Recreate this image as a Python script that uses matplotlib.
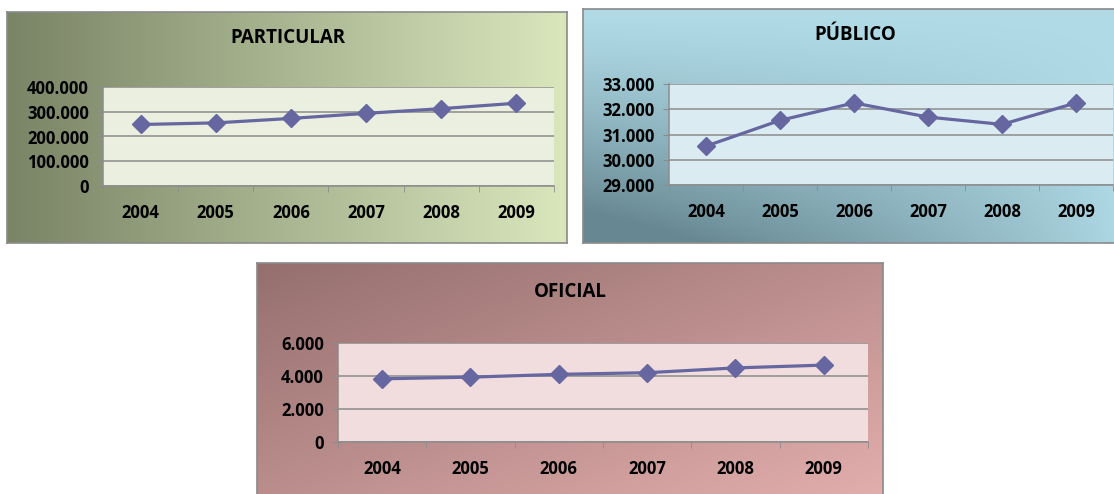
import numpy as np
import matplotlib.pyplot as plt
from matplotlib.colors import to_rgb
from matplotlib.ticker import FuncFormatter

plt.rcParams['font.family'] = ['Open Sans', 'DejaVu Sans']
plt.rcParams['font.weight'] = 'bold'

years = ['2004', '2005', '2006', '2007', '2008', '2009']
particular = [248500, 255000, 273000, 293500, 312500, 334500]
publico = [30540, 31560, 32250, 31690, 31400, 32250]
oficial = [3830, 3930, 4100, 4200, 4490, 4660]

W, H = 1114, 494
fig = plt.figure(figsize=(W / 100, H / 100), dpi=100)


def rect(x0, y0, x1, y1):
    return [x0 / W, 1 - y1 / H, (x1 - x0) / W, (y1 - y0) / H]


def thousands(v, pos):
    return f'{int(round(v)):,}'.replace(',', '.')


def gradient_box(box, c0, c1, kind):
    ax = fig.add_axes(rect(*box))
    n = 200
    xx, yy = np.meshgrid(np.linspace(0, 1, n), np.linspace(0, 1, n))
    if kind == 'h':
        t = xx
    elif kind == 'diag':
        t = (xx + yy) / 2
    else:
        # darker toward the lower left corner
        t = np.clip(yy ** 1.3 * (1 - xx) ** 0.8 * 1.2, 0, 1)
    a, b = np.array(to_rgb(c0)), np.array(to_rgb(c1))
    img = a[None, None, :] * (1 - t[..., None]) + b[None, None, :] * t[..., None]
    ax.imshow(img, extent=[0, 1, 0, 1], origin='upper', aspect='auto')
    ax.set_xticks([])
    ax.set_yticks([])
    for s in ax.spines.values():
        s.set_color('#8a8a8a')
        s.set_linewidth(1.2)
    return ax


def line_panel(box, plot_box, title, title_xy, values, ylim, step,
               bg, plot_bg):
    gradient_box(box, *bg)
    ax = fig.add_axes(rect(*plot_box))
    ax.set_facecolor(plot_bg)
    x = np.arange(len(years))
    ax.plot(x, values, color='#6667a0', lw=2.3, marker='D', ms=9,
            markeredgecolor='#6667a0', zorder=3, clip_on=False)
    ax.set_xlim(-0.5, len(years) - 0.5)
    ax.set_ylim(*ylim)
    ax.set_yticks(np.arange(ylim[0], ylim[1] + step / 2, step))
    ax.yaxis.set_major_formatter(FuncFormatter(thousands))
    ax.grid(axis='y', color='#8c8c8c', lw=1.1)
    ax.set_axisbelow(True)
    ax.set_xticks(x)
    ax.set_xticklabels(years)
    ax.set_xticks(np.arange(-0.5, len(years)), minor=True)
    ax.tick_params(axis='x', which='major', length=0, pad=13, labelsize=12)
    ax.tick_params(axis='x', which='minor', length=4, color='#8c8c8c')
    ax.tick_params(axis='y', length=4, color='#8c8c8c', pad=6, labelsize=12)
    for s in ['top', 'right']:
        ax.spines[s].set_visible(False)
    for s in ['left', 'bottom']:
        ax.spines[s].set_color('#8c8c8c')
        ax.spines[s].set_linewidth(1.1)
    fig.text(title_xy[0] / W, 1 - title_xy[1] / H, title, ha='center',
             va='center', fontsize=13.5, fontweight='bold')


line_panel((7, 12, 567, 243), (103, 87, 554, 186), 'PARTICULAR', (288, 38),
           particular, (0, 400000), 100000,
           ('#7a8466', '#dae7bd', 'h'), '#ebefdf')
line_panel((583, 9, 1125, 243), (669, 84, 1113, 185), 'PÚBLICO', (855, 35),
           publico, (29000, 33000), 1000,
           ('#b0dbe7', '#678892', 'corner'), '#daecf2')
line_panel((257, 263, 883, 505), (338, 343, 868, 442), 'OFICIAL', (570, 292),
           oficial, (0, 6000), 2000,
           ('#946f6e', '#e4afae', 'diag'), '#f1dddd')

fig.savefig('out.png', dpi=100)
